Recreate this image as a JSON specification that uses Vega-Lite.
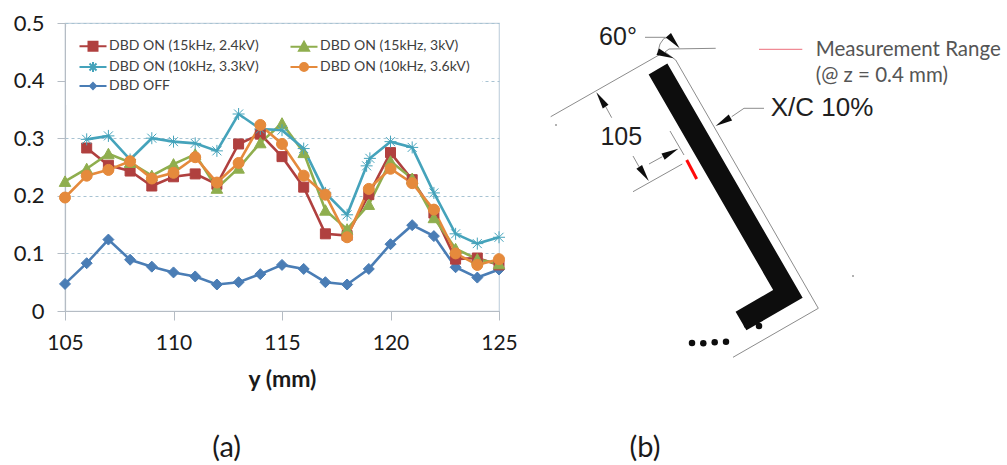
{"$schema":"https://vega.github.io/schema/vega-lite/v6.json","padding":{"left":12,"top":11,"right":0,"bottom":0},"autosize":{"type":"pad"},"background":"white","bounds":"flush","spacing":45,"config":{"view":{"stroke":null}},"hconcat":[{"width":434,"height":288,"view":{"stroke":"#c5d3df","strokeWidth":1.2},"data":{"name":"curves"},"encoding":{"x":{"field":"y_mm","type":"quantitative"},"y":{"field":"u","type":"quantitative"},"stroke":{"field":"series","type":"nominal","title":null,"scale":{"domain":["DBD ON (15kHz, 2.4kV)","DBD ON (15kHz, 3kV)","DBD ON (10kHz, 3.3kV)","DBD ON (10kHz, 3.6kV)","DBD OFF"],"range":["#b0403f","#8fae4e","#45a3bb","#e58a3c","#4a7db5"]},"legend":{"title":null,"orient":"none","legendX":1,"legendY":4,"direction":"horizontal","columns":2,"fillColor":"white","padding":12,"symbolOffset":8,"symbolSize":100,"symbolStrokeWidth":2,"labelOffset":9,"labelFont":"Lato","labelFontSize":14,"labelColor":"#404040","labelLimit":200,"rowPadding":3,"columnPadding":27,"encoding":{"symbols":{"fill":{"value":{"expr":"datum.value === 'DBD ON (15kHz, 2.4kV)' ? '#b0403f' : datum.value === 'DBD ON (15kHz, 3kV)' ? '#8fae4e' : datum.value === 'DBD ON (10kHz, 3.3kV)' ? '#45a3bb' : datum.value === 'DBD ON (10kHz, 3.6kV)' ? '#e58a3c' : '#4a7db5'"}},"shape":{"value":{"expr":"datum.value === 'DBD ON (15kHz, 2.4kV)' ? 'M-2.7,0H2.7M-.9,-.9H.9V.9H-.9Z' : datum.value === 'DBD ON (15kHz, 3kV)' ? 'M-2.7,.1H2.7M0,-.9L1,.9L-1,.9Z' : datum.value === 'DBD ON (10kHz, 3.3kV)' ? 'M-2.7,0H2.7M0,-1V1M-.7,-.7L.7,.7M-.7,.7L.7,-.7' : datum.value === 'DBD ON (10kHz, 3.6kV)' ? 'M-2.7,0H2.7M-.8,0A.8,.8 0 1 1 .8,0A.8,.8 0 1 1 -.8,0Z' : 'M-2.7,0H2.7M0,-.6L.6,0L0,.6L-.6,0Z'"}}}}}}},"layer":[
{"mark":{"type":"line","strokeWidth":2.6},"encoding":{"x":{"field":"y_mm","type":"quantitative","scale":{"domain":[105,125],"nice":false,"zero":false},"axis":{"values":[105,110,115,120,125],"format":"d","grid":false,"labelFlush":false,"title":"y (mm)","titleFont":"Lato","titleFontSize":23,"titleFontWeight":"bold","titleColor":"#1a1a1a","titlePadding":15,"labelFont":"Lato","labelFontSize":21,"labelColor":"#1a1a1a","labelPadding":12,"tickSize":9,"tickColor":"#b5bcc4","domainColor":"#b5bcc4","domainWidth":1.2}},"y":{"field":"u","type":"quantitative","scale":{"domain":[0,0.5],"nice":false},"axis":{"values":[0,0.1,0.2,0.3,0.4,0.5],"labelExpr":"datum.value == 0 ? '0' : format(datum.value, '.1f')","labelFlush":false,"title":null,"grid":true,"gridColor":"#a8c3d2","gridDash":[3,3],"gridWidth":1,"labelFont":"Lato","labelFontSize":22,"labelColor":"#1a1a1a","labelPadding":13,"tickSize":8,"tickColor":"#b5bcc4","domainColor":"#b5bcc4","domainWidth":1.2}},"order":{"field":"y_mm"},"detail":{"field":"run"}}},
{"transform":[{"filter":"datum.run == 'off'"}],"mark":{"type":"point","filled":true,"size":100,"fill":"#4a7db5","strokeWidth":1,"opacity":1,"shape":"M0,-1.1L1.1,0L0,1.1L-1.1,0Z"}},
{"transform":[{"filter":"datum.run == 'a'"}],"mark":{"type":"point","filled":true,"size":100,"fill":"#b0403f","strokeWidth":1,"opacity":1,"shape":"M-1,-1H1V1H-1Z"}},
{"transform":[{"filter":"datum.run == 'b'"}],"mark":{"type":"point","filled":true,"size":100,"fill":"#8fae4e","strokeWidth":1,"opacity":1,"shape":"M0,-1.1L1.15,1L-1.15,1Z"}},
{"transform":[{"filter":"datum.run == 'c'"}],"mark":{"type":"point","filled":false,"size":100,"strokeWidth":1,"opacity":1,"shape":"M-1.2,0H1.2M0,-1.2V1.2M-.9,-.9L.9,.9M-.9,.9L.9,-.9"}},
{"transform":[{"filter":"datum.run == 'd'"}],"mark":{"type":"point","filled":true,"size":100,"fill":"#e58a3c","strokeWidth":1,"opacity":1,"shape":"M-1.1,0A1.1,1.1 0 1 1 1.1,0A1.1,1.1 0 1 1 -1.1,0Z"}},
{"data":{"values":[{"y_mm":112.45,"u":-0.238,"label":"(a)"}]},"mark":{"type":"text","font":"Lato","fontSize":29,"color":"#1a1a1a"},"encoding":{"x":{"field":"y_mm","type":"quantitative"},"y":{"field":"u","type":"quantitative"},"stroke":{"value":null},"text":{"field":"label"}}}
]},
{"width":455,"height":440,"data":{"name":"diagram"},"layer":[
{"transform":[{"filter":"datum.kind == 'bar'"}],"mark":{"type":"line","stroke":"#0d0d0d","strokeWidth":21.6,"strokeJoin":"miter","strokeCap":"butt"},"encoding":{"x":{"field":"x","type":"quantitative","scale":{"domain":[0,455],"nice":false,"zero":false},"axis":null},"y":{"field":"y","type":"quantitative","scale":{"domain":[0,440],"nice":false,"zero":false},"axis":null},"order":{"field":"s"},"detail":{"field":"part"}}},
{"transform":[{"filter":"datum.kind == 'thin'"}],"mark":{"type":"line","stroke":"#8c8c8c","strokeWidth":1},"encoding":{"x":{"field":"x","type":"quantitative"},"y":{"field":"y","type":"quantitative"},"order":{"field":"s"},"detail":{"field":"part"}}},
{"transform":[{"filter":"datum.kind == 'red'"}],"mark":{"type":"line","stroke":"#ff0a0a","strokeWidth":3},"encoding":{"x":{"field":"x","type":"quantitative"},"y":{"field":"y","type":"quantitative"},"order":{"field":"s"}}},
{"transform":[{"filter":"datum.kind == 'key'"}],"mark":{"type":"line","stroke":"#f08a95","strokeWidth":1.2},"encoding":{"x":{"field":"x","type":"quantitative"},"y":{"field":"y","type":"quantitative"},"order":{"field":"s"}}},
{"transform":[{"filter":"datum.kind == 'dot'"}],"mark":{"type":"point","filled":true,"size":42,"color":"#0d0d0d","opacity":1},"encoding":{"x":{"field":"x","type":"quantitative"},"y":{"field":"y","type":"quantitative"}}},
{"transform":[{"filter":"datum.kind == 'speck'"}],"mark":{"type":"point","filled":true,"size":4,"color":"#999999","opacity":1},"encoding":{"x":{"field":"x","type":"quantitative"},"y":{"field":"y","type":"quantitative"}}},
{"transform":[{"filter":"datum.kind == 'arrow'"}],"mark":{"type":"point","filled":true,"size":130,"color":"#0d0d0d","opacity":1,"shape":"M0,-1.5L.6,1.5L-.6,1.5Z"},"encoding":{"x":{"field":"x","type":"quantitative"},"y":{"field":"y","type":"quantitative"},"angle":{"field":"a","type":"quantitative","scale":null}}},
{"transform":[{"filter":"datum.kind == 'cad'"}],"mark":{"type":"text","font":"Liberation Sans","fontSize":25,"align":"center","baseline":"middle","color":"#1f1f1f"},"encoding":{"x":{"field":"x","type":"quantitative"},"y":{"field":"y","type":"quantitative"},"text":{"field":"label"}}},
{"transform":[{"filter":"datum.kind == 'cadb'"}],"mark":{"type":"text","font":"Liberation Sans","fontSize":26,"align":"center","baseline":"middle","color":"#1f1f1f"},"encoding":{"x":{"field":"x","type":"quantitative"},"y":{"field":"y","type":"quantitative"},"text":{"field":"label"}}},
{"transform":[{"filter":"datum.kind == 'note'"}],"mark":{"type":"text","font":"Lato","fontSize":20.5,"align":"left","baseline":"middle","color":"#555555"},"encoding":{"x":{"field":"x","type":"quantitative"},"y":{"field":"y","type":"quantitative"},"text":{"field":"label"}}},
{"transform":[{"filter":"datum.kind == 'cap'"}],"mark":{"type":"text","font":"Lato","fontSize":29,"align":"center","baseline":"middle","color":"#1a1a1a"},"encoding":{"x":{"field":"x","type":"quantitative"},"y":{"field":"y","type":"quantitative"},"text":{"field":"label"}}}
]}],
"datasets":{"curves":[
{"series":"DBD OFF","run":"off","y_mm":105,"u":0.047},{"series":"DBD OFF","run":"off","y_mm":106,"u":0.083},{"series":"DBD OFF","run":"off","y_mm":107,"u":0.124},{"series":"DBD OFF","run":"off","y_mm":108,"u":0.089},{"series":"DBD OFF","run":"off","y_mm":109,"u":0.077},{"series":"DBD OFF","run":"off","y_mm":110,"u":0.067},{"series":"DBD OFF","run":"off","y_mm":111,"u":0.06},{"series":"DBD OFF","run":"off","y_mm":112,"u":0.046},{"series":"DBD OFF","run":"off","y_mm":113,"u":0.05},{"series":"DBD OFF","run":"off","y_mm":114,"u":0.064},{"series":"DBD OFF","run":"off","y_mm":115,"u":0.08},{"series":"DBD OFF","run":"off","y_mm":116,"u":0.073},{"series":"DBD OFF","run":"off","y_mm":117,"u":0.05},{"series":"DBD OFF","run":"off","y_mm":118,"u":0.046},{"series":"DBD OFF","run":"off","y_mm":119,"u":0.073},{"series":"DBD OFF","run":"off","y_mm":120,"u":0.116},{"series":"DBD OFF","run":"off","y_mm":121,"u":0.149},{"series":"DBD OFF","run":"off","y_mm":122,"u":0.13},{"series":"DBD OFF","run":"off","y_mm":123,"u":0.076},{"series":"DBD OFF","run":"off","y_mm":124,"u":0.058},{"series":"DBD OFF","run":"off","y_mm":125,"u":0.072},
{"series":"DBD ON (15kHz, 2.4kV)","run":"a","y_mm":106,"u":0.283},{"series":"DBD ON (15kHz, 2.4kV)","run":"a","y_mm":107,"u":0.253},{"series":"DBD ON (15kHz, 2.4kV)","run":"a","y_mm":108,"u":0.243},{"series":"DBD ON (15kHz, 2.4kV)","run":"a","y_mm":109,"u":0.217},{"series":"DBD ON (15kHz, 2.4kV)","run":"a","y_mm":110,"u":0.233},{"series":"DBD ON (15kHz, 2.4kV)","run":"a","y_mm":111,"u":0.238},{"series":"DBD ON (15kHz, 2.4kV)","run":"a","y_mm":112,"u":0.22},{"series":"DBD ON (15kHz, 2.4kV)","run":"a","y_mm":113,"u":0.29},{"series":"DBD ON (15kHz, 2.4kV)","run":"a","y_mm":114,"u":0.307},{"series":"DBD ON (15kHz, 2.4kV)","run":"a","y_mm":115,"u":0.268},{"series":"DBD ON (15kHz, 2.4kV)","run":"a","y_mm":116,"u":0.215},{"series":"DBD ON (15kHz, 2.4kV)","run":"a","y_mm":117,"u":0.134},{"series":"DBD ON (15kHz, 2.4kV)","run":"a","y_mm":118,"u":0.131},{"series":"DBD ON (15kHz, 2.4kV)","run":"a","y_mm":119,"u":0.202},{"series":"DBD ON (15kHz, 2.4kV)","run":"a","y_mm":120,"u":0.275},{"series":"DBD ON (15kHz, 2.4kV)","run":"a","y_mm":121,"u":0.228},{"series":"DBD ON (15kHz, 2.4kV)","run":"a","y_mm":122,"u":0.17},{"series":"DBD ON (15kHz, 2.4kV)","run":"a","y_mm":123,"u":0.09},{"series":"DBD ON (15kHz, 2.4kV)","run":"a","y_mm":124,"u":0.092},{"series":"DBD ON (15kHz, 2.4kV)","run":"a","y_mm":125,"u":0.08},
{"series":"DBD ON (15kHz, 3kV)","run":"b","y_mm":105,"u":0.225},{"series":"DBD ON (15kHz, 3kV)","run":"b","y_mm":106,"u":0.247},{"series":"DBD ON (15kHz, 3kV)","run":"b","y_mm":107,"u":0.273},{"series":"DBD ON (15kHz, 3kV)","run":"b","y_mm":108,"u":0.258},{"series":"DBD ON (15kHz, 3kV)","run":"b","y_mm":109,"u":0.235},{"series":"DBD ON (15kHz, 3kV)","run":"b","y_mm":110,"u":0.255},{"series":"DBD ON (15kHz, 3kV)","run":"b","y_mm":111,"u":0.272},{"series":"DBD ON (15kHz, 3kV)","run":"b","y_mm":112,"u":0.213},{"series":"DBD ON (15kHz, 3kV)","run":"b","y_mm":113,"u":0.248},{"series":"DBD ON (15kHz, 3kV)","run":"b","y_mm":114,"u":0.292},{"series":"DBD ON (15kHz, 3kV)","run":"b","y_mm":115,"u":0.326},{"series":"DBD ON (15kHz, 3kV)","run":"b","y_mm":116,"u":0.275},{"series":"DBD ON (15kHz, 3kV)","run":"b","y_mm":117,"u":0.175},{"series":"DBD ON (15kHz, 3kV)","run":"b","y_mm":118,"u":0.142},{"series":"DBD ON (15kHz, 3kV)","run":"b","y_mm":119,"u":0.185},{"series":"DBD ON (15kHz, 3kV)","run":"b","y_mm":120,"u":0.26},{"series":"DBD ON (15kHz, 3kV)","run":"b","y_mm":121,"u":0.23},{"series":"DBD ON (15kHz, 3kV)","run":"b","y_mm":122,"u":0.162},{"series":"DBD ON (15kHz, 3kV)","run":"b","y_mm":123,"u":0.108},{"series":"DBD ON (15kHz, 3kV)","run":"b","y_mm":124,"u":0.09},{"series":"DBD ON (15kHz, 3kV)","run":"b","y_mm":125,"u":0.082},
{"series":"DBD ON (10kHz, 3.3kV)","run":"c","y_mm":106,"u":0.298},{"series":"DBD ON (10kHz, 3.3kV)","run":"c","y_mm":107,"u":0.304},{"series":"DBD ON (10kHz, 3.3kV)","run":"c","y_mm":108,"u":0.263},{"series":"DBD ON (10kHz, 3.3kV)","run":"c","y_mm":109,"u":0.3},{"series":"DBD ON (10kHz, 3.3kV)","run":"c","y_mm":110,"u":0.294},{"series":"DBD ON (10kHz, 3.3kV)","run":"c","y_mm":111,"u":0.291},{"series":"DBD ON (10kHz, 3.3kV)","run":"c","y_mm":112,"u":0.278},{"series":"DBD ON (10kHz, 3.3kV)","run":"c","y_mm":113,"u":0.342},{"series":"DBD ON (10kHz, 3.3kV)","run":"c","y_mm":114,"u":0.316},{"series":"DBD ON (10kHz, 3.3kV)","run":"c","y_mm":115,"u":0.314},{"series":"DBD ON (10kHz, 3.3kV)","run":"c","y_mm":116,"u":0.282},{"series":"DBD ON (10kHz, 3.3kV)","run":"c","y_mm":117,"u":0.205},{"series":"DBD ON (10kHz, 3.3kV)","run":"c","y_mm":118,"u":0.167},{"series":"DBD ON (10kHz, 3.3kV)","run":"c","y_mm":118.9,"u":0.252},{"series":"DBD ON (10kHz, 3.3kV)","run":"c","y_mm":119.05,"u":0.265},{"series":"DBD ON (10kHz, 3.3kV)","run":"c","y_mm":120,"u":0.294},{"series":"DBD ON (10kHz, 3.3kV)","run":"c","y_mm":121,"u":0.284},{"series":"DBD ON (10kHz, 3.3kV)","run":"c","y_mm":122,"u":0.205},{"series":"DBD ON (10kHz, 3.3kV)","run":"c","y_mm":123,"u":0.134},{"series":"DBD ON (10kHz, 3.3kV)","run":"c","y_mm":124,"u":0.117},{"series":"DBD ON (10kHz, 3.3kV)","run":"c","y_mm":125,"u":0.128},
{"series":"DBD ON (10kHz, 3.6kV)","run":"d","y_mm":105,"u":0.197},{"series":"DBD ON (10kHz, 3.6kV)","run":"d","y_mm":106,"u":0.235},{"series":"DBD ON (10kHz, 3.6kV)","run":"d","y_mm":107,"u":0.245},{"series":"DBD ON (10kHz, 3.6kV)","run":"d","y_mm":108,"u":0.26},{"series":"DBD ON (10kHz, 3.6kV)","run":"d","y_mm":109,"u":0.23},{"series":"DBD ON (10kHz, 3.6kV)","run":"d","y_mm":110,"u":0.24},{"series":"DBD ON (10kHz, 3.6kV)","run":"d","y_mm":111,"u":0.267},{"series":"DBD ON (10kHz, 3.6kV)","run":"d","y_mm":112,"u":0.223},{"series":"DBD ON (10kHz, 3.6kV)","run":"d","y_mm":113,"u":0.257},{"series":"DBD ON (10kHz, 3.6kV)","run":"d","y_mm":114,"u":0.323},{"series":"DBD ON (10kHz, 3.6kV)","run":"d","y_mm":115,"u":0.29},{"series":"DBD ON (10kHz, 3.6kV)","run":"d","y_mm":116,"u":0.235},{"series":"DBD ON (10kHz, 3.6kV)","run":"d","y_mm":117,"u":0.202},{"series":"DBD ON (10kHz, 3.6kV)","run":"d","y_mm":118,"u":0.128},{"series":"DBD ON (10kHz, 3.6kV)","run":"d","y_mm":119,"u":0.212},{"series":"DBD ON (10kHz, 3.6kV)","run":"d","y_mm":120,"u":0.247},{"series":"DBD ON (10kHz, 3.6kV)","run":"d","y_mm":121,"u":0.222},{"series":"DBD ON (10kHz, 3.6kV)","run":"d","y_mm":122,"u":0.176},{"series":"DBD ON (10kHz, 3.6kV)","run":"d","y_mm":123,"u":0.1},{"series":"DBD ON (10kHz, 3.6kV)","run":"d","y_mm":124,"u":0.08},{"series":"DBD ON (10kHz, 3.6kV)","run":"d","y_mm":125,"u":0.09}
],
"diagram":[
{"kind":"bar","part":"stick","s":1,"x":114,"y":394},{"kind":"bar","part":"stick","s":2,"x":243.9,"y":169.1},{"kind":"bar","part":"stick","s":3,"x":197,"y":142},
{"kind":"thin","part":"root","s":1,"x":6.7,"y":346.3},{"kind":"thin","part":"root","s":2,"x":115,"y":408},
{"kind":"thin","part":"edge","s":1,"x":171.7,"y":414.7},{"kind":"thin","part":"edge","s":2,"x":125,"y":414},{"kind":"thin","part":"edge","s":3,"x":121,"y":411},{"kind":"thin","part":"edge","s":4,"x":131.7,"y":403},{"kind":"thin","part":"edge","s":5,"x":274.3,"y":154.7},{"kind":"thin","part":"edge","s":6,"x":189,"y":105.7},
{"kind":"thin","part":"arc","s":1,"x":114,"y":411.3},{"kind":"thin","part":"arc","s":2,"x":116,"y":419},{"kind":"thin","part":"arc","s":3,"x":120,"y":424.7},{"kind":"thin","part":"arc","s":4,"x":126.7,"y":426},
{"kind":"thin","part":"ledger","s":1,"x":101,"y":425.7},{"kind":"thin","part":"ledger","s":2,"x":121.7,"y":425.7},
{"kind":"thin","part":"t3","s":1,"x":61.7,"y":356.3},{"kind":"thin","part":"t3","s":2,"x":67.7,"y":345.3},
{"kind":"thin","part":"t4","s":1,"x":105,"y":299},{"kind":"thin","part":"t4","s":2,"x":118.3,"y":306.3},
{"kind":"thin","part":"t5","s":1,"x":89,"y":307},{"kind":"thin","part":"t5","s":2,"x":95,"y":296.3},
{"kind":"thin","part":"t6","s":1,"x":187.7,"y":346.3},{"kind":"thin","part":"t6","s":2,"x":200,"y":354.7},{"kind":"thin","part":"t6","s":3,"x":220,"y":354.7},
{"kind":"thin","part":"e1","s":1,"x":126,"y":332},{"kind":"thin","part":"e1","s":2,"x":140,"y":308},
{"kind":"thin","part":"e2","s":1,"x":138.3,"y":299},{"kind":"thin","part":"e2","s":2,"x":89,"y":271.3},
{"kind":"red","s":1,"x":142.7,"y":303},{"kind":"red","s":2,"x":152.7,"y":284},
{"kind":"key","s":1,"x":215,"y":413.7},{"kind":"key","s":2,"x":258.3,"y":413.7},
{"kind":"dot","x":148,"y":120},{"kind":"dot","x":159.3,"y":119.7},{"kind":"dot","x":170.7,"y":120.7},{"kind":"dot","x":182,"y":121.3},{"kind":"dot","x":203,"y":138},{"kind":"dot","x":215,"y":137},
{"kind":"speck","x":12,"y":338},{"kind":"speck","x":309,"y":187},
{"kind":"arrow","x":130,"y":421.3,"a":139},{"kind":"arrow","x":121.7,"y":408,"a":112},{"kind":"arrow","x":57,"y":363.5,"a":327},{"kind":"arrow","x":126.7,"y":310.3,"a":63},{"kind":"arrow","x":100,"y":289,"a":146},{"kind":"arrow","x":179,"y":341.3,"a":240},
{"kind":"cad","x":74,"y":426,"label":"60°"},{"kind":"cad","x":77.3,"y":325.7,"label":"105"},{"kind":"cadb","x":278,"y":355,"label":"X/C 10%"},
{"kind":"note","x":271.7,"y":413,"label":"Measurement Range"},{"kind":"note","x":271.7,"y":387,"label":"(@ z = 0.4 mm)"},
{"kind":"cap","x":101,"y":15,"label":"(b)"}
]}}
